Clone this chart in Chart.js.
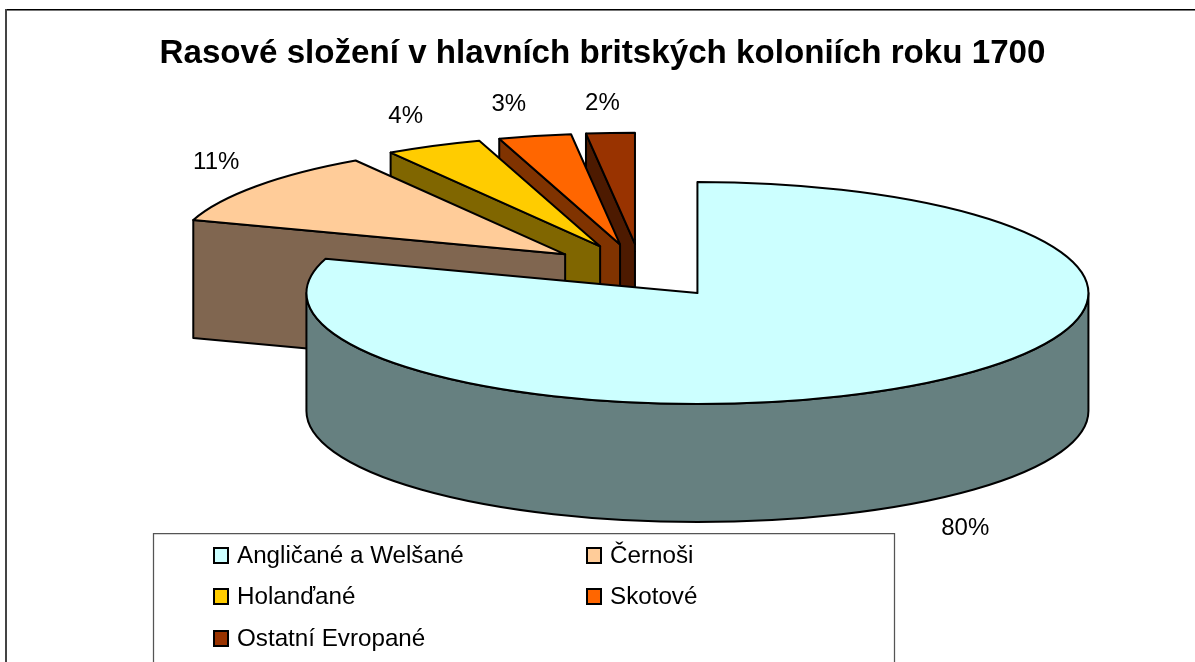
<!DOCTYPE html>
<html><head><meta charset="utf-8">
<style>html,body{margin:0;padding:0;background:#fff;overflow:hidden}#w{width:1195px;height:662px}</style>
<script src="https://cdn.jsdelivr.net/npm/chart.js@4"></script>
</head><body><div id="w"><canvas id="c" width="1195" height="662"></canvas></div>
<script>
const categories = ['Angličané a Welšané','Černoši','Holanďané','Skotové','Ostatní Evropané'];
const values = [80,11,4,3,2];
const topColors = ['#CCFFFF','#FFCC99','#FFCC00','#FF6600','#993300'];
const sideColors = ['#668080','#806650','#806600','#803300','#4D1A00'];
const titleText = 'Rasové složení v hlavních britských koloniích roku 1700';

// view settings of the 3-D projection
const RADIUS = 391, EXPLODE = 96, TILT = 0.284, DEPTH = 118, PIE_X = 641, PIE_Y = 271;
const labelNudge = [[38,27],[-40,-24],[-28,-29],[-26,-32],[-8,-30]];
const legendCols = [213,586], legendRows = [555,596,638];
const FONT = '"Liberation Sans", Arial, sans-serif';

const pie3d = {
  id:'pie3d',
  beforeDraw(chart){
    const ctx = chart.ctx;
    ctx.save();
    ctx.fillStyle='#fff'; ctx.fillRect(0,0,chart.width,chart.height);
    ctx.fillStyle='#000'; ctx.fillRect(5,9,chart.width-5,1);
    ctx.fillStyle='#777'; ctx.fillRect(5,10,chart.width-5,1);
    ctx.fillStyle='#444'; ctx.fillRect(5,9,2,chart.height-9);
    ctx.restore();
  },
  beforeDatasetDraw(chart){
    const ctx = chart.ctx;
    const arcs = chart.getDatasetMeta(0).data;
    const order = arcs.map((a,i)=>i).reverse();
    order.forEach(i=>{
      const a = arcs[i];
      const {x,y,startAngle:s,endAngle:e,outerRadius:r} = a.getProps(['x','y','startAngle','endAngle','outerRadius']);
      const mid=(s+e)/2;
      const cx = PIE_X + Math.cos(mid)*EXPLODE, cy = PIE_Y + Math.sin(mid)*EXPLODE*TILT;
      const px = t=>cx+Math.cos(t)*r, py = t=>cy+Math.sin(t)*r*TILT;
      ctx.save();
      ctx.lineJoin='round'; ctx.strokeStyle='#000'; ctx.lineWidth=2;
      ctx.fillStyle = sideColors[i];
      // cut face at the slice's start edge, when it faces the viewer
      if (-Math.cos(s) > 1e-6){
        ctx.beginPath(); ctx.moveTo(cx,cy); ctx.lineTo(px(s),py(s));
        ctx.lineTo(px(s),py(s)+DEPTH); ctx.lineTo(cx,cy+DEPTH); ctx.closePath();
        ctx.fill(); ctx.stroke();
      }
      // outer wall, front half only
      const w0=Math.max(s,0), w1=Math.min(e,Math.PI);
      if (w1>w0){
        ctx.beginPath();
        ctx.ellipse(cx,cy,r,r*TILT,0,w0,w1);
        ctx.ellipse(cx,cy+DEPTH,r,r*TILT,0,w1,w0,true);
        ctx.closePath(); ctx.fill(); ctx.stroke();
      }
      // top face: the library's own arc, flattened
      ctx.save();
      ctx.translate(cx, cy); ctx.scale(1,TILT); ctx.translate(-x,-y);
      a.draw(ctx, chart.chartArea);
      ctx.restore();
      ctx.beginPath(); ctx.moveTo(cx,cy);
      ctx.ellipse(cx,cy,r,r*TILT,0,s,e); ctx.closePath(); ctx.stroke();
      ctx.restore();
    });
    return false;
  },
  afterDraw(chart){
    const ctx = chart.ctx;
    const arcs = chart.getDatasetMeta(0).data;
    ctx.save();
    ctx.fillStyle='#000'; ctx.font='24px '+FONT;
    ctx.textAlign='center'; ctx.textBaseline='middle';
    arcs.forEach((a,i)=>{
      const {startAngle:s,endAngle:e,outerRadius:r}=a.getProps(['startAngle','endAngle','outerRadius']);
      const mid=(s+e)/2;
      const lx=PIE_X+Math.cos(mid)*(EXPLODE+r)+labelNudge[i][0];
      const ly=PIE_Y+Math.sin(mid)*(EXPLODE+r)*TILT+(Math.sin(mid)>0?DEPTH:0)+labelNudge[i][1];
      ctx.fillText(values[i]+'%',lx,ly);
    });
    // legend
    ctx.strokeStyle='#555'; ctx.lineWidth=1.25; ctx.fillStyle='#fff';
    ctx.beginPath(); ctx.rect(153.5,533.5,741,200); ctx.fill(); ctx.stroke();
    ctx.textAlign='left'; ctx.font='24.2px '+FONT;
    categories.forEach((c,i)=>{
      const lx=legendCols[i%2], ly=legendRows[Math.floor(i/2)];
      ctx.fillStyle=topColors[i]; ctx.strokeStyle='#000'; ctx.lineWidth=2;
      ctx.fillRect(lx+1,ly-7,14,15); ctx.strokeRect(lx+1,ly-7,14,15);
      ctx.fillStyle='#000';
      ctx.fillText(c,lx+24,ly+1);
    });
    ctx.restore();
  }
};

new Chart(document.getElementById('c'),{
  type:'pie',
  data:{labels:categories,datasets:[{data:values,backgroundColor:topColors,borderWidth:0}]},
  plugins:[pie3d],
  options:{
    responsive:false,animation:false,radius:RADIUS,
    layout:{padding:{left:10,top:34,right:0,bottom:0}},
    events:[],
    plugins:{
      legend:{display:false},tooltip:{enabled:false},
      title:{display:true,text:titleText,color:'#000',padding:0,font:{family:FONT,size:33.15,weight:'bold'}}
    }
  }
});
</script></body></html>
